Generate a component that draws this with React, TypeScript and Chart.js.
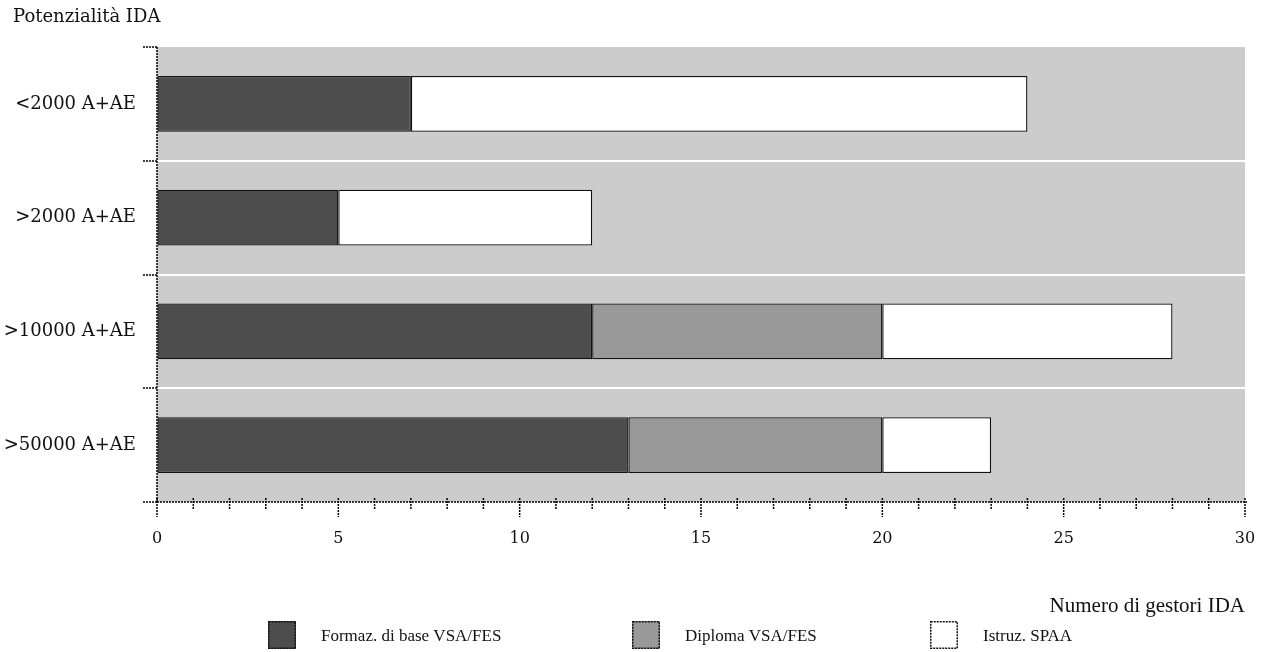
import React, { useEffect, useRef } from "react";
import { Chart, registerables } from "chart.js";

Chart.register(...registerables);

const categories = ["<2000 A+AE", ">2000 A+AE", ">10000 A+AE", ">50000 A+AE"];
const seriesNames = ["Formaz. di base VSA/FES", "Diploma VSA/FES", "Istruz. SPAA"];
const formazBase = [7, 5, 12, 13];
const diploma = [0, 0, 8, 7];
const istruzSpaa = [17, 7, 8, 3];
const seriesColors = ["#4d4d4d", "#999999", "#ffffff"];
const xMin = 0;
const xMax = 30;
const yAxisTitle = "Potenzialità IDA";
const xAxisTitle = "Numero di gestori IDA";

const FONT = "DejaVu Serif";
const FONT2 = "Liberation Serif";

const bgPlugin = {
  id: "bgPlugin",
  beforeDraw(chart: any) {
    const { ctx, chartArea } = chart;
    ctx.save();
    ctx.fillStyle = "#cccccc";
    ctx.fillRect(chartArea.left, chartArea.top, chartArea.right - chartArea.left, chartArea.bottom - chartArea.top);
    ctx.restore();
  },
};

const axisPlugin = {
  id: "axisPlugin",
  afterDraw(chart: any) {
    const { ctx, chartArea } = chart;
    const sx = chart.scales.x;
    const bottom = chartArea.bottom;
    ctx.save();
    ctx.fillStyle = "#111";
    ctx.font = `18px '${FONT}'`;
    ctx.textAlign = "left";
    ctx.textBaseline = "middle";
    ctx.fillText(yAxisTitle, 13, 17);

    ctx.strokeStyle = "#000";
    ctx.lineWidth = 1.5;
    ctx.setLineDash([2, 1]);
    ctx.beginPath();
    ctx.moveTo(chartArea.left, chartArea.top);
    ctx.lineTo(chartArea.left, bottom);
    ctx.stroke();
    ctx.beginPath();
    ctx.moveTo(chartArea.left, bottom);
    ctx.lineTo(chartArea.right + 2, bottom);
    ctx.stroke();
    sx.ticks.forEach((t: any, i: number) => {
      const px = sx.getPixelForTick(i);
      const major = t.value % 5 === 0;
      ctx.beginPath();
      ctx.moveTo(px, bottom - 4);
      ctx.lineTo(px, bottom + (major ? 15 : 8));
      ctx.stroke();
    });
    ctx.restore();
  },
};

const legendPlugin = {
  id: "customLegend",
  afterDraw(chart: any) {
    const { ctx } = chart;
    const boxX = [268, 632, 930];
    const top = 621;
    const size = 28;
    ctx.save();
    chart.data.datasets.forEach((ds: any, i: number) => {
      const x = boxX[i];
      ctx.fillStyle = ds.backgroundColor;
      ctx.fillRect(x, top, size, size);
      ctx.strokeStyle = "#111";
      ctx.lineWidth = 1.5;
      ctx.setLineDash([2, 1]);
      ctx.strokeRect(x + 0.75, top + 0.75, size - 1.5, size - 1.5);
      ctx.setLineDash([]);
      ctx.fillStyle = "#111";
      ctx.font = `17px '${FONT2}'`;
      ctx.textBaseline = "middle";
      ctx.textAlign = "left";
      ctx.fillText(ds.label, x + size + 25, top + size / 2 + 2);
    });
    ctx.restore();
  },
};

export default function App() {
  const ref = useRef<HTMLCanvasElement>(null);
  useEffect(() => {
    if (!ref.current) return;
    Chart.defaults.font.family = FONT;
    Chart.defaults.font.size = 16;
    Chart.defaults.color = "#111";
    const data = [formazBase, diploma, istruzSpaa];
    const chart = new Chart(ref.current, {
      type: "bar",
      data: {
        labels: categories,
        datasets: seriesNames.map((n, i) => ({
          label: n,
          data: data[i],
          backgroundColor: seriesColors[i],
          borderColor: "#111",
          borderWidth: 1.3,
          borderSkipped: false,
          barPercentage: 0.49,
          categoryPercentage: 1,
        })),
      },
      options: {
        indexAxis: "y",
        animation: false,
        responsive: false,
        layout: { padding: { left: 0, right: 19, top: 47, bottom: 30 } },
        plugins: {
          legend: { display: false },
          tooltip: { enabled: false },
          title: { display: false },
        },
        scales: {
          x: {
            stacked: true,
            min: xMin,
            max: xMax,
            afterFit(scale: any) {
              scale.height = 120;
            },
            ticks: {
              stepSize: 1,
              autoSkip: false,
              maxRotation: 0,
              padding: 3,
              font: { size: 16 },
              callback: (v: any) => (Number(v) % 5 === 0 ? String(v) : ""),
            },
            grid: { drawOnChartArea: false, drawTicks: true, tickLength: 24, tickColor: "rgba(0,0,0,0)" },
            border: { display: false },
            title: {
              display: true,
              text: xAxisTitle,
              align: "end",
              font: { family: FONT2, size: 21 },
              padding: { top: 0, bottom: 3.4 },
            },
          },
          y: {
            stacked: true,
            afterFit(scale: any) {
              scale.width = 157;
            },
            ticks: { padding: 7, font: { size: 18 } },
            grid: {
              offset: true,
              color: (c: any) => (c.index === 0 || c.index === undefined ? "rgba(0,0,0,0)" : "#ffffff"),
              lineWidth: 2,
              drawTicks: true,
              tickLength: 14,
              tickColor: "#000",
              tickWidth: 1.5,
              tickBorderDash: [2, 1],
            },
            border: { display: false },
          },
        },
      },
      plugins: [bgPlugin, axisPlugin, legendPlugin],
    } as any);
    return () => chart.destroy();
  }, []);
  return (
    <div style={{ position: "fixed", left: 0, top: 0, width: 1264, height: 652 }}>
      <canvas ref={ref} width={1264} height={652} style={{ width: 1264, height: 652 }} />
    </div>
  );
}
